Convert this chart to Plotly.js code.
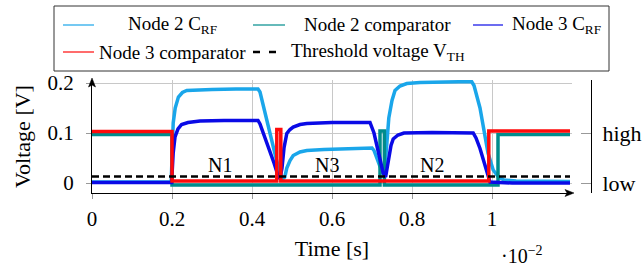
<!DOCTYPE html>
<html>
<head>
<meta charset="utf-8">
<script src="https://cdn.plot.ly/plotly-3.0.1.min.js"></script>
<style>html,body{margin:0;padding:0;background:#fff;}#chart{width:644px;height:269px;}</style>
</head>
<body>
<div id="chart"></div>
<script>
// ---- data (time in 10^-2 s, voltage in V) ----
const tNode2CRF = [0, 0.198, 0.203, 0.208, 0.216, 0.226, 0.237, 0.26, 0.30, 0.36, 0.415, 0.42, 0.445, 0.46, 0.47, 0.476, 0.482, 0.487, 0.495, 0.503, 0.52, 0.537, 0.58, 0.64, 0.70, 0.705, 0.715, 0.725, 0.731, 0.736, 0.742, 0.75, 0.7575, 0.77, 0.787, 0.82, 0.88, 0.949, 0.955, 0.97, 0.99, 1.003, 1.016, 1.03, 1.06, 1.12, 1.195];
const vNode2CRF = [0.002, 0.002, 0.12, 0.15, 0.172, 0.181, 0.185, 0.186, 0.187, 0.188, 0.188, 0.182, 0.095, 0.05, 0.02, 0.008, 0.012, 0.03, 0.045, 0.055, 0.062, 0.065, 0.067, 0.069, 0.07, 0.065, 0.045, 0.022, 0.016, 0.07, 0.13, 0.165, 0.185, 0.194, 0.199, 0.201, 0.202, 0.203, 0.195, 0.15, 0.06, 0.026, 0.012, 0.006, 0.004, 0.003, 0.003];

const tNode2Comp = [0, 0.2, 0.72, 0.731, 1.015, 1.195];
const vNode2Comp = [0.097, -0.004, 0.104, -0.004, 0.097, 0.097];

const tNode3CRF = [0, 0.199, 0.203, 0.2075, 0.215, 0.224, 0.24, 0.27, 0.33, 0.415, 0.42, 0.44, 0.455, 0.465, 0.47, 0.475, 0.48, 0.487, 0.495, 0.503, 0.52, 0.537, 0.6, 0.695, 0.705, 0.715, 0.728, 0.734, 0.74, 0.7475, 0.753, 0.765, 0.78, 0.85, 0.953, 0.96, 0.97, 0.987, 0.995, 1.05, 1.195];
const vNode3CRF = [0.001, 0.001, 0.06, 0.092, 0.108, 0.117, 0.121, 0.124, 0.125, 0.125, 0.118, 0.075, 0.04, 0.015, 0.008, 0.03, 0.07, 0.099, 0.107, 0.112, 0.117, 0.119, 0.121, 0.121, 0.1, 0.065, 0.02, 0.012, 0.045, 0.075, 0.088, 0.096, 0.1, 0.101, 0.1, 0.09, 0.069, 0.022, 0.002, 0.0, 0.0];

const tNode3Comp = [0, 0.2, 0.462, 0.472, 0.992, 1.195];
const vNode3Comp = [0.103, 0.004, 0.107, 0.004, 0.104, 0.104];

const tThreshold = [0, 1.195];
const vThreshold = [0.0128, 0.0128];

const xTickVals = [0, 0.2, 0.4, 0.6, 0.8, 1];
const xTickText = ['0', '0.2', '0.4', '0.6', '0.8', '1'];
const yTickVals = [0, 0.1, 0.2];
const yTickText = ['0', '0.1', '0.2'];
const levelVals = [0, 0.1];
const levelText = ['low', 'high'];

const regionNames = ['N1', 'N3', 'N2'];
const regionX = [0.32, 0.587, 0.849];
const regionY = [0.036, 0.036, 0.036];

const seriesNames = ['Node 2 C<sub>RF</sub>', 'Node 2 comparator', 'Node 3 C<sub>RF</sub>', 'Node 3 comparator', 'Threshold voltage V<sub>TH</sub>'];
const colors = ['#1aa6ea', '#008c8c', '#0a0ae6', '#ff0a0a', '#000000'];

// ---- layout helpers (pixel -> paper) ----
const L = 92, R = 591, T = 80, B = 193;
const px = p => (p - L) / (R - L);
const py = p => (B - p) / (B - T);
const FONT = 'Liberation Serif';

const traces = [
  {x: tNode2CRF, y: vNode2CRF, name: seriesNames[0], mode: 'lines', line: {color: colors[0], width: 3.5}},
  {x: tNode2Comp, y: vNode2Comp, name: seriesNames[1], mode: 'lines', line: {color: colors[1], width: 3.5, shape: 'hv'}},
  {x: tNode3CRF, y: vNode3CRF, name: seriesNames[2], mode: 'lines', line: {color: colors[2], width: 3.5}},
  {x: tNode3Comp, y: vNode3Comp, name: seriesNames[3], mode: 'lines', line: {color: colors[3], width: 3.5, shape: 'hv'}},
  {x: tThreshold, y: vThreshold, name: seriesNames[4], mode: 'lines', line: {color: colors[4], width: 2.5, dash: '7px,4px'}},
  {x: [0], y: [0], yaxis: 'y2', mode: 'markers', marker: {opacity: 0}, hoverinfo: 'skip', showlegend: false}
];

const shapes = [];
const annotations = [];
// legend box
shapes.push({type: 'rect', xref: 'paper', yref: 'paper', x0: px(54), x1: px(609), y0: py(71), y1: py(6), line: {color: '#333', width: 1}, fillcolor: 'rgba(0,0,0,0)'});
const legendRows = [25, 25, 25, 52, 52];
const sampleX = [[63, 94], [253, 285], [473, 503], [63, 94], [253, 277]];
const textPos = [[172, 'center'], [377.5, 'center'], [510, 'left'], [172.5, 'center'], [378, 'center']];
for (let i = 0; i < 5; i++) {
  shapes.push({type: 'line', xref: 'paper', yref: 'paper', x0: px(sampleX[i][0]), x1: px(sampleX[i][1]), y0: py(legendRows[i]), y1: py(legendRows[i]),
    line: {color: colors[i], width: i === 4 ? 2.5 : 1.2, dash: i === 4 ? '7px,9px' : 'solid'}});
  annotations.push({xref: 'paper', yref: 'paper', x: px(textPos[i][0]), y: py(legendRows[i]), xanchor: textPos[i][1], yanchor: 'middle',
    text: seriesNames[i], showarrow: false, font: {family: FONT, size: 19, color: '#000'}});
}
// region labels
for (let i = 0; i < regionNames.length; i++) {
  annotations.push({x: regionX[i], y: regionY[i], xref: 'x', yref: 'y', text: regionNames[i], showarrow: false,
    font: {family: FONT, size: 20, color: '#000'}, xanchor: 'center', yanchor: 'middle'});
}
// axis arrowheads (small filled triangles)
const tri = (pts) => 'M ' + pts.map(p => px(p[0]) + ',' + py(p[1])).join(' L ') + ' Z';
shapes.push({type: 'path', xref: 'paper', yref: 'paper', path: tri([[574, B], [565, B - 3.5], [567, B], [565, B + 3.5]]), fillcolor: '#000', line: {color: '#000', width: 0.5}});
shapes.push({type: 'path', xref: 'paper', yref: 'paper', path: tri([[L, 78], [L - 3.5, 87], [L, 85], [L + 3.5, 87]]), fillcolor: '#000', line: {color: '#000', width: 0.5}});
// scale factor
annotations.push({xref: 'paper', yref: 'paper', x: px(499), y: py(255), xanchor: 'left', yanchor: 'middle', text: '·10<sup>−2</sup>', showarrow: false, font: {family: FONT, size: 20, color: '#000'}});

const layout = {
  width: 644, height: 269,
  margin: {l: L, r: 644 - R, t: T, b: 269 - B, pad: 0},
  paper_bgcolor: '#fff', plot_bgcolor: '#fff',
  showlegend: false,
  font: {family: FONT, color: '#000'},
  xaxis: {
    domain: [0, px(572)], range: [0, 1.2], tickvals: xTickVals, ticktext: xTickText,
    showgrid: true, gridcolor: '#c8c8c8', gridwidth: 1, zeroline: false,
    showline: true, linecolor: '#000', linewidth: 1,
    ticks: 'outside', ticklen: 5, tickcolor: '#999', tickwidth: 1,
    tickfont: {family: FONT, size: 21, color: '#000'}, ticklabelstandoff: 2,
    title: {text: 'Time [s]', font: {family: FONT, size: 22, color: '#000'}, standoff: 10}
  },
  yaxis: {
    range: [-0.02, 0.206], tickvals: yTickVals, ticktext: yTickText,
    showgrid: true, gridcolor: '#c8c8c8', gridwidth: 1, zeroline: false,
    showline: true, linecolor: '#000', linewidth: 1,
    ticks: 'outside', ticklen: 5, tickcolor: '#999', tickwidth: 1,
    tickfont: {family: FONT, size: 21, color: '#000'}, ticklabelstandoff: 8,
    title: {text: 'Voltage [V]', font: {family: FONT, size: 22, color: '#000'}, standoff: 10}
  },
  yaxis2: {
    overlaying: 'y', side: 'right', anchor: 'free', position: 1,
    range: [-0.02, 0.206], tickvals: levelVals, ticktext: levelText,
    showgrid: false, zeroline: false, showline: true, linecolor: '#000', linewidth: 1,
    ticks: 'inside', ticklen: 10, tickcolor: '#999', tickwidth: 1,
    tickfont: {family: FONT, size: 22, color: '#000'}, ticklabelstandoff: 6
  },
  shapes: shapes,
  annotations: annotations
};

Plotly.newPlot('chart', traces, layout, {displayModeBar: false, staticPlot: true, responsive: false});
</script>
</body>
</html>
